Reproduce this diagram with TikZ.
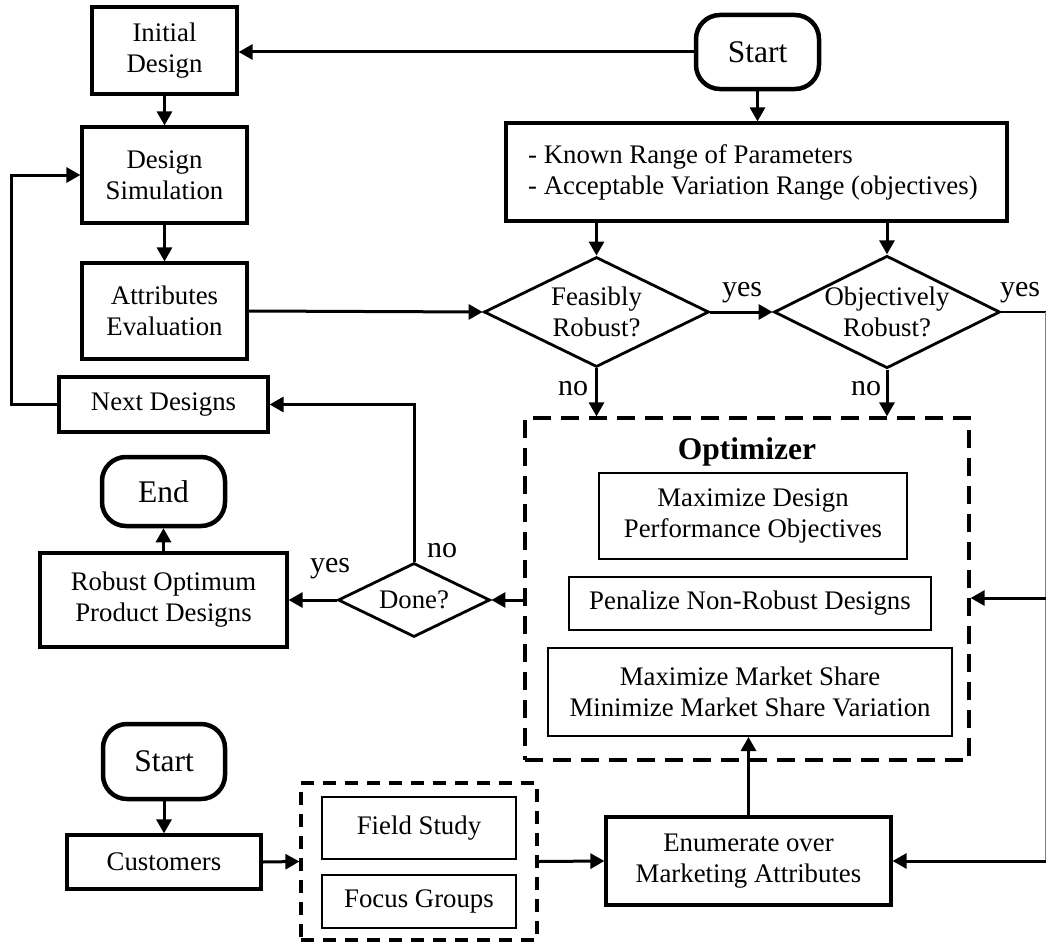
\documentclass[tikz,border=0pt]{standalone}
\usepackage{fontspec}
\setmainfont{Liberation Serif}
\usetikzlibrary{shapes.geometric,arrows.meta}
\begin{document}
\begin{tikzpicture}[x=1pt,y=-1pt,
  txt/.style={font=\fontsize{26.8}{31}\selectfont},
  box/.style={txt,draw,line width=3.2pt,inner sep=0pt,align=center},
  inbox/.style={txt,draw,line width=2pt,inner sep=0pt,align=center},
  term/.style={draw,line width=4.5pt,rounded corners=24pt,inner sep=0pt,
    font=\fontsize{31.5}{34}\selectfont},
  decision/.style={txt,draw,diamond,line width=2.8pt,inner sep=0pt,aspect=2,align=center},
  group/.style={draw,line width=3.2pt,dash pattern=on 18pt off 10pt,inner sep=0pt},
  lbl/.style={font=\fontsize{30}{32}\selectfont,anchor=base,inner sep=0pt},
  arr/.style={line width=3pt,-{Triangle[length=14pt,width=15pt]}},
  link/.style={line width=2.6pt},
]
\useasboundingbox (0,0) rectangle (1046,942);

% left column: design loop
\node[box,minimum width=145,minimum height=87] (init) at (164.5,50.5) {Initial\\Design};
\node[box,minimum width=165,minimum height=96] (sim) at (164.5,175) {Design\\Simulation};
\node[box,minimum width=165,minimum height=96] (attr) at (164.5,311) {Attributes\\Evaluation};
\node[box,minimum width=209,minimum height=55] (next) at (163.5,404.5) {Next Designs};
\node[term,minimum width=123,minimum height=69] (endt) at (163.5,491.5) {End};
\node[box,minimum width=247,minimum height=94] (robust) at (163.5,600) {Robust Optimum\\Product Designs};
\node[decision,minimum width=152,minimum height=74] (done) at (414,600) {Done?};

% top right: robustness checks
\node[term,minimum width=123,minimum height=74] (start1) at (757.5,52) {Start};
\node[box,minimum width=501,minimum height=98] (params) at (756.5,172) {};
\node[txt,align=left,anchor=west,inner sep=0pt] (paramtxt) at (528,172)
  {- Known Range of Parameters\\- Acceptable Variation Range (objectives)};
\node[decision,minimum width=225,minimum height=110] (feas) at (596.5,312) {Feasibly\\Robust?};
\node[decision,minimum width=226,minimum height=110] (obj) at (887,312) {Objectively\\Robust?};

% optimizer group
\node[group,minimum width=444,minimum height=342] (opt) at (747,589) {};
\node[font=\fontsize{31.5}{34}\selectfont\bfseries,anchor=base,inner sep=0pt] (opttitle) at (747,459) {Optimizer};
\node[inbox,minimum width=308,minimum height=86] (m1) at (753,516) {Maximize Design\\Performance Objectives};
\node[inbox,minimum width=362,minimum height=53] (m2) at (750,603.5) {Penalize Non-Robust Designs};
\node[inbox,minimum width=404,minimum height=88] (m3) at (750,692) {Maximize Market Share\\Minimize Market Share Variation};

% bottom: customer input
\node[term,minimum width=122,minimum height=75] (start2) at (164,761.5) {Start};
\node[box,minimum width=194,minimum height=54] (cust) at (164,862) {Customers};
\node[draw,line width=3.2pt,dash pattern=on 13pt off 9pt,minimum width=236,minimum height=157,inner sep=0pt] (fg) at (419,861.5) {};
\node[inbox,minimum width=194,minimum height=62] (field) at (419,828) {Field Study};
\node[inbox,minimum width=194,minimum height=53] (focus) at (419,901.5) {Focus Groups};
\node[box,minimum width=285,minimum height=88] (enum) at (748.5,861) {Enumerate over\\Marketing Attributes};

% connectors
\draw[arr] (start1.west) -- (init.east |- start1.west);
\draw[arr] (init.south) -- (sim.north);
\draw[arr] (sim.south) -- (attr.north);
\draw[arr] (attr.east) -- (feas.west);
\draw[arr] (next.west) -- ++(-46,0) |- (sim.west);
\draw[arr] (start1.south) -- (params.north -| start1.south);
\draw[arr] (params.south -| feas.north) -- (feas.north);
\draw[arr] (params.south -| obj.north) -- (obj.north);
\draw[arr] (feas.east) -- (obj.west);
\draw[arr] (feas.south) -- (feas.south |- opt.north);
\draw[arr] (obj.south) -- (obj.south |- opt.north);

\coordinate (rt) at (1045.5,312);
\coordinate (rm) at (1045.5,598);
\coordinate (rb) at (1045.5,861);
\draw[link] (obj.east) -- (rt);
\draw[gray,line width=1pt] (rt) -- (rb);
\draw[arr] (rm) -- (rm -| opt.east);
\draw[arr] (rb) -- (enum.east);

\draw[arr] (opt.west |- done.east) -- (done.east);
\draw[arr] (done.north) -- (done.north |- next.east) -- (next.east);
\draw[arr] (done.west) -- (robust.east);
\draw[arr] (robust.north) -- (endt.south);

\draw[arr] (start2.south) -- (cust.north);
\draw[arr] (cust.east) -- (fg.west);
\draw[arr] (fg.east) -- (enum.west);
\draw[arr] (enum.north) -- (enum.north |- m3.south);

% branch labels
\node[lbl] (yes1) at (742,296) {yes};
\node[lbl] (yes2) at (1020,296) {yes};
\node[lbl] (no1) at (573,395) {no};
\node[lbl] (no2) at (866,395) {no};
\node[lbl] (no3) at (442,557) {no};
\node[lbl] (yes3) at (330,572) {yes};
\end{tikzpicture}
\end{document}
